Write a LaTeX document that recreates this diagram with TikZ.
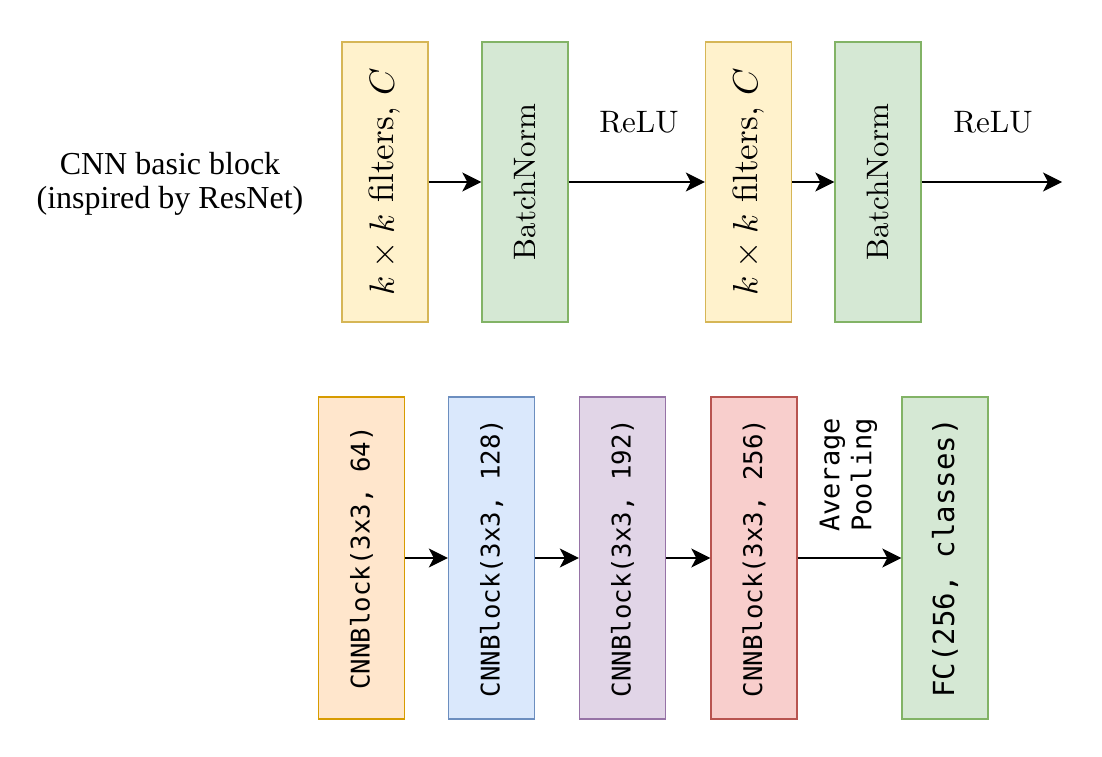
\documentclass[tikz,border=0pt]{standalone}
\usepackage{fontspec}
\usepackage{graphicx}
\newfontfamily\capfont{Liberation Serif}
\newfontfamily\codefont{DejaVu Sans Mono}
\usetikzlibrary{arrows.meta}

\definecolor{yfill}{HTML}{FFF2CC}\definecolor{ydraw}{HTML}{D6B656}
\definecolor{gfill}{HTML}{D5E8D4}\definecolor{gdraw}{HTML}{82B366}
\definecolor{ofill}{HTML}{FFE6CC}\definecolor{odraw}{HTML}{D79B00}
\definecolor{bfill}{HTML}{DAE8FC}\definecolor{bdraw}{HTML}{6C8EBF}
\definecolor{pfill}{HTML}{E1D5E7}\definecolor{pdraw}{HTML}{9673A6}
\definecolor{rfill}{HTML}{F8CECC}\definecolor{rdraw}{HTML}{B85450}

\tikzset{
  layer/.style={draw, line width=1.4pt, inner sep=0pt, minimum width=86pt},
  toplayer/.style={layer, minimum height=280pt},
  botlayer/.style={layer, minimum height=322pt},
  yellowbox/.style={fill=yfill, draw=ydraw},
  greenbox/.style={fill=gfill, draw=gdraw},
  orangebox/.style={fill=ofill, draw=odraw},
  bluebox/.style={fill=bfill, draw=bdraw},
  purplebox/.style={fill=pfill, draw=pdraw},
  redbox/.style={fill=rfill, draw=rdraw},
  flow/.style={line width=1.3pt, -{Stealth[length=19pt,width=19pt,inset=5pt]}},
  plain/.style={inner sep=0pt}
}

\newcommand{\lmtext}[2][3.1]{\scalebox{#1}{#2}}
\newcommand{\codetext}[2]{{\codefont\fontsize{#1}{#1}\selectfont #2}}

\begin{document}
\begin{tikzpicture}[x=1pt,y=-1pt]
\useasboundingbox[fill=white] (0,0) rectangle (1102,756);

% ---- CNN basic block ----
\node[plain, align=center, font=\capfont\fontsize{32}{34}\selectfont] (title) at (170,184)
  {CNN basic block\\(inspired by ResNet)};

\node[toplayer, yellowbox] (conv1) at (385,182) {\rotatebox{90}{\lmtext[3.5]{$k\times k$ filters, $C$}}};
\node[toplayer, greenbox]  (bn1)   at (525,182) {\rotatebox{90}{\lmtext{BatchNorm}}};
\node[toplayer, yellowbox] (conv2) at (748.5,182) {\rotatebox{90}{\lmtext[3.5]{$k\times k$ filters, $C$}}};
\node[toplayer, greenbox]  (bn2)   at (878,182) {\rotatebox{90}{\lmtext{BatchNorm}}};
\coordinate (out) at (1062,182);

\node[plain] (relu1) at (639,122) {\lmtext{ReLU}};
\node[plain] (relu2) at (993,122) {\lmtext{ReLU}};

\draw[flow] (conv1.east) -- (bn1.west);
\draw[flow] (bn1.east) -- (conv2.west);
\draw[flow] (conv2.east) -- (bn2.west);
\draw[flow] (bn2.east) -- (out);

% ---- full network ----
\node[botlayer, orangebox] (blk1) at (361.5,558) {\rotatebox{90}{\codetext{25.7}{CNNBlock(3x3, 64)}}};
\node[botlayer, bluebox]   (blk2) at (491.5,558) {\rotatebox{90}{\codetext{25.7}{CNNBlock(3x3, 128)}}};
\node[botlayer, purplebox] (blk3) at (622.5,558) {\rotatebox{90}{\codetext{25.7}{CNNBlock(3x3, 192)}}};
\node[botlayer, redbox]    (blk4) at (754,558)   {\rotatebox{90}{\codetext{25.7}{CNNBlock(3x3, 256)}}};
\node[botlayer, greenbox]  (fc)   at (945,558)   {\rotatebox{90}{\codetext{29}{FC(256, classes)}}};

\node[plain] (pool) at (849,475) {\rotatebox{90}{\codefont\fontsize{27}{32}\selectfont
  \begin{tabular}{@{}c@{}}Average\\Pooling\end{tabular}}};

\draw[flow] (blk1.east) -- (blk2.west);
\draw[flow] (blk2.east) -- (blk3.west);
\draw[flow] (blk3.east) -- (blk4.west);
\draw[flow] (blk4.east) -- (fc.west);
\end{tikzpicture}
\end{document}
